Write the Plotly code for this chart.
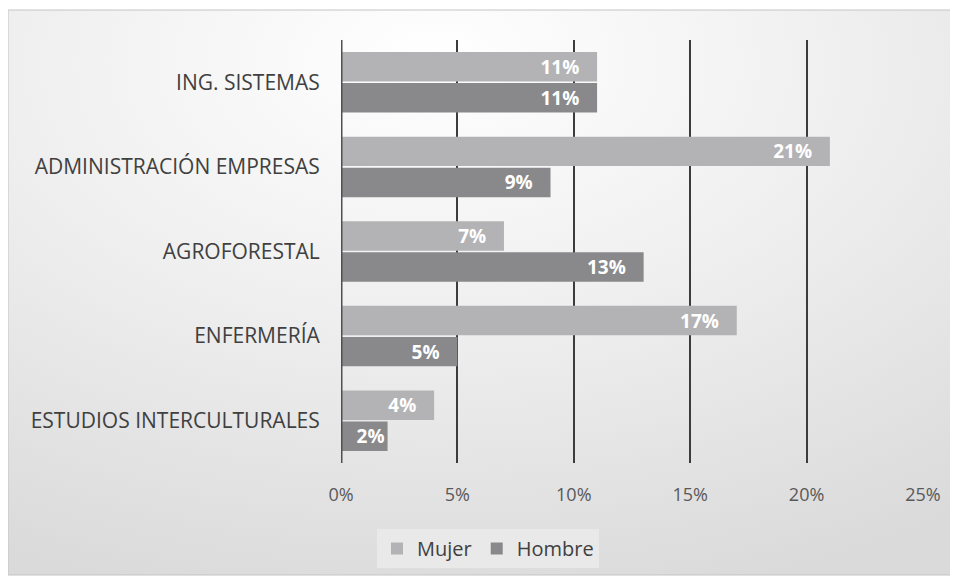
import base64
import plotly.graph_objects as go

categories = ["ING. SISTEMAS", "ADMINISTRACIÓN EMPRESAS", "AGROFORESTAL", "ENFERMERÍA", "ESTUDIOS INTERCULTURALES"]
mujer = [11, 21, 7, 17, 4]
hombre = [11, 9, 13, 5, 2]
x_ticks = [0, 5, 10, 15, 20, 25]

# page has an 8px body margin: figure pixel = window pixel - 8
OFF = 8
W, H = 958 - OFF, 581 - OFF
PL, PR, PT, PB = 341, 923, 40, 463          # plot area in window coords
L, R, T = PL - OFF, W - (PR - OFF), PT - OFF
B = H - (PB - OFF)
pw, ph = PR - PL, PB - PT

def px(x):
    return (x - PL) / pw

def py(y):
    return (PB - y) / ph

svg = ('<svg xmlns="http://www.w3.org/2000/svg" width="945" height="565" viewBox="0 0 945 565" preserveAspectRatio="none">'
       '<defs><radialGradient id="g" cx="0.45" cy="0.12" r="0.95" fx="0.45" fy="0.08">'
       '<stop offset="0" stop-color="#ffffff"/><stop offset="0.5" stop-color="#eeeeee"/>'
       '<stop offset="1" stop-color="#dadadb"/></radialGradient></defs>'
       '<rect width="945" height="565" fill="url(#g)"/></svg>')
src = "data:image/svg+xml;base64," + base64.b64encode(svg.encode()).decode()


def label(v):
    # keep the label clear of the axis line on very short bars
    pad = "\u00a0\u00a0\u00a0" if v >= 4 else ""
    return f"{v}%{pad}"


label_font = dict(family="Open Sans", size=19, color="white", weight="bold")

fig = go.Figure()
fig.add_trace(go.Bar(
    y=categories, x=mujer, name="Mujer", orientation="h",
    marker=dict(color="#b3b3b5", line=dict(width=0)),
    text=[label(v) for v in mujer], texttemplate="%{text}",
    textposition="inside", insidetextanchor="end", constraintext="none",
    textfont=label_font,
))
fig.add_trace(go.Bar(
    y=categories, x=hombre, name="Hombre", orientation="h",
    marker=dict(color="#89898b", line=dict(width=0)),
    text=[label(v) for v in hombre], texttemplate="%{text}",
    textposition="inside", insidetextanchor="end", constraintext="none",
    textfont=label_font,
))

bx0, bx1, by0, by1 = 8, 952, 10, 575
fig.update_layout(
    width=W, height=H,
    margin=dict(l=L, r=R, t=T, b=B),
    paper_bgcolor="white", plot_bgcolor="rgba(0,0,0,0)",
    barmode="group", bargap=0.267, bargroupgap=0.05,
    font=dict(family="Open Sans", color="#404040"),
    showlegend=True,
    legend=dict(orientation="h", x=px(488), y=py(548.5), xanchor="center", yanchor="middle",
                bgcolor="#e9e9e9", font=dict(size=20, color="#404040"),
                traceorder="normal", itemwidth=30),
    images=[dict(source=src, xref="paper", yref="paper", x=px(bx0), y=py(by0),
                 sizex=px(bx1) - px(bx0), sizey=py(by0) - py(by1), sizing="stretch",
                 xanchor="left", yanchor="top", layer="below")],
    shapes=[dict(type="rect", xref="paper", yref="paper", x0=px(bx0), x1=px(bx1), y0=py(by1), y1=py(by0),
                 line=dict(color="#c4c4c4", width=1), fillcolor="rgba(0,0,0,0)", layer="below")],
)
fig.update_xaxes(range=[0, 25], tickvals=x_ticks, ticktext=[f"{v}%" for v in x_ticks],
                 showgrid=True, gridcolor="#3c3c3c", gridwidth=1.5,
                 zeroline=False, showline=False,
                 ticks="outside", ticklen=15, tickcolor="rgba(0,0,0,0)",
                 tickfont=dict(size=18, color="#595959"))
fig.update_yaxes(autorange="reversed", showgrid=False, zeroline=False,
                 showline=False,
                 ticks="outside", ticklen=16, tickcolor="rgba(0,0,0,0)",
                 tickfont=dict(size=21, color="#404040"))
fig.add_shape(type="line", xref="x", yref="paper", x0=0, x1=0, y0=0, y1=1,
              line=dict(color="#505050", width=3), layer="above")

fig.write_html("out.html")
